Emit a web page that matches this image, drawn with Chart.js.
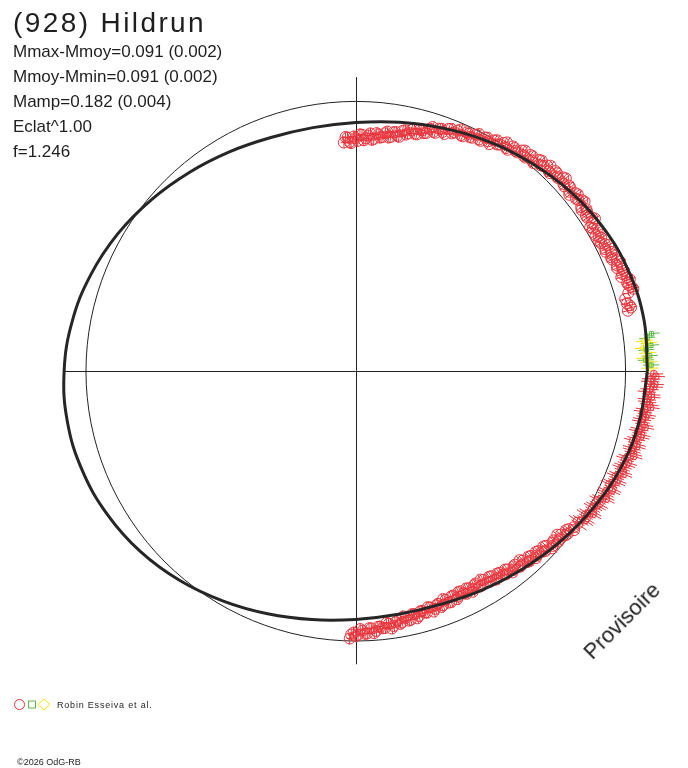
<!DOCTYPE html>
<html>
<head>
<meta charset="utf-8">
<script src="https://cdn.jsdelivr.net/npm/chart.js"></script>
<style>
  html, body { margin: 0; padding: 0; background: #fff; overflow: hidden; }
  #wrap { position: relative; width: 688px; height: 768px; }
  #c { position: absolute; left: 0; top: 0; }
  .t { position: absolute; font-family: "Liberation Sans", Arial, sans-serif; color: #1e1e1e; line-height: 1; white-space: nowrap; }
</style>
</head>
<body>
<div id="wrap">
  <canvas id="c" width="688" height="768"></canvas>
  <div class="t" style="left:13px; top:9px; font-size:28px; letter-spacing:2.4px;">(928) Hildrun</div>
  <div class="t" style="left:13px; top:42.6px; font-size:17px;">Mmax-Mmoy=0.091 (0.002)</div>
  <div class="t" style="left:13px; top:67.6px; font-size:17px;">Mmoy-Mmin=0.091 (0.002)</div>
  <div class="t" style="left:13px; top:92.6px; font-size:17px;">Mamp=0.182 (0.004)</div>
  <div class="t" style="left:13px; top:117.6px; font-size:17px;">Eclat^1.00</div>
  <div class="t" style="left:13px; top:142.6px; font-size:17px;">f=1.246</div>
  <div class="t" style="left:57px; top:700.7px; font-size:9px; letter-spacing:0.8px;">Robin Esseiva et al.</div>
  <div class="t" style="left:17px; top:758.4px; font-size:9px;">©2026 OdG-RB</div>
  <div class="t" style="left:622px; top:621px; font-size:22px; transform:translate(-50%,-50%) rotate(-45deg);">Provisoire</div>
</div>
<script>
// ---------- DATA (angle in degrees, radius relative to reference circle = 1) ----------
const curveAngle = [0,10,20,30,40,50,60,70,80,90,100,110,120,130,140,150,160,170,
                    180,190,200,210,220,230,240,250,260,270,280,290,300,310,320,330,340,350,360];
const curveRadius = [1.081,1.085,1.077,1.060,1.036,1.008,0.982,0.956,0.935,0.920,0.915,0.920,
                     0.937,0.960,0.988,1.018,1.045,1.067,1.081,1.085,1.078,1.062,1.040,1.012,
                     0.982,0.955,0.933,0.918,0.913,0.918,0.935,0.957,0.985,1.015,1.045,1.067,1.081];

const redTop = [[93,0.847],[92,0.865],[91.2,0.844],[90,0.862],[89,0.876],[88,0.855],[87,0.873],[86,0.858],
  [85,0.884],[84,0.869],[83,0.887],[82,0.873],[81,0.895],[80,0.884],[79,0.905],[78,0.895],[77,0.916],
  [76,0.905],[75,0.927],[74,0.916],[73,0.938],[72,0.931],[71,0.949],[70,0.942],[69,0.960],[68,0.949],
  [67,0.967],[66,0.956],[65,0.975],[64,0.964],[63,0.982],[62,0.971],[61,0.989],[60,0.982],[59,0.996],
  [58,0.989],[57,1.007],[56,0.996],[55,1.015],[54,1.007],[53,1.022],[52,1.011],[51,1.029],[50,1.018],
  [49,1.036],[48,1.025],[47,1.040],[46,1.029],[45,1.047],[44,1.036],[43,1.051],[42,1.036],[41,1.047],
  [40,1.033],[39,1.047],[38,1.036],[37,1.051],[36,1.033],[35,1.044],[34,1.029],[33,1.044],[32,1.033],
  [31,1.025],[30,1.040],[29,1.029],[28,1.022],[27,1.036],[26,1.029],[25,1.044],[24,1.036],[23,1.051],
  [22,1.044],[21,1.058],[20,1.051],[19,1.065],[18,1.058],[17,1.069],[16,1.051],[14,1.036],[13,1.047],[12.5,1.033]];

const redTop2 = [[92.5,0.867],[91.5,0.848],[90.5,0.868],[89.5,0.852],[88.5,0.875],[87.5,0.862],[86.5,0.881],
  [85.5,0.862],[84.5,0.880],[83.5,0.872],[82.5,0.894],[81.5,0.876],[80.5,0.897],[79.5,0.882],[78.5,0.909],
  [77.5,0.902],[76.5,0.924],[75.5,0.905],[74.5,0.925],[73.5,0.919],[72.5,0.947],[71.5,0.930],[70.5,0.951],
  [69.5,0.937],[68.5,0.964],[67.5,0.956],[66.5,0.975],[65.5,0.955],[64.5,0.973],[63.5,0.965],[62.5,0.989],
  [61.5,0.970],[60.5,0.992],[59.5,0.975],[58.5,1.002],[57.5,0.994],[56.5,1.015],[55.5,0.994],[54.5,1.014],
  [53.5,1.007],[52.5,1.029],[51.5,1.010],[50.5,1.030],[49.5,1.013],[48.5,1.040],[47.5,1.029],[46.5,1.048],
  [45.5,1.027],[44.5,1.045],[43.5,1.036],[42.5,1.056],[41.5,1.032],[40.5,1.046],[39.5,1.026],[38.5,1.051],
  [37.5,1.040],[36.5,1.055],[35.5,1.028],[34.5,1.040],[33.5,1.029],[32.5,1.051],[31.5,1.019],[30.5,1.039],
  [29.5,1.021],[28.5,1.035],[27.5,1.025],[26.5,1.046],[25.5,1.026],[24.5,1.043],[23.5,1.036],[22.5,1.060],
  [21.5,1.041],[20.5,1.061],[19.5,1.044],[18.5,1.071],[17.5,1.060],[16.5,1.073],[15,1.034],[13.5,1.044]];

const redRight = [[-0.5,1.105],[-1.5,1.095],[-2.5,1.109],[-3.5,1.091],[-4.5,1.098],[-5.5,1.084],[-6.5,1.095],
  [-7.5,1.080],[-8.5,1.091],[-9.5,1.076],[-10.5,1.087],[-11.5,1.073],[-12.5,1.084],[-13.5,1.069],
  [-14.5,1.076],[-15.5,1.062],[-16.5,1.073],[-17.5,1.055],[-18.5,1.065],[-19.5,1.051],[-20.5,1.058],
  [-21.5,1.044],[-22.5,1.051],[-23.5,1.036],[-24.5,1.047],[-25.5,1.029],[-26.5,1.036],[-27.5,1.022],
  [-28.5,1.029],[-29.5,1.015],[-30.5,1.022],[-31.5,1.007],[-32.5,1.015],[-33.5,1.000],[-34.5,1.004]];

const redRight2 = [[-1,1.112],[-2,1.092],[-3,1.106],[-4,1.081],[-5,1.100],[-6,1.086],[-7,1.101],[-8,1.075],
  [-9,1.087],[-10,1.074],[-11,1.092],[-12,1.069],[-13,1.083],[-14,1.059],[-15,1.078],[-16,1.064],[-17,1.077],
  [-18,1.049],[-19,1.061],[-20,1.047],[-21,1.063],[-22,1.038],[-23,1.050],[-24,1.028],[-25,1.047],[-26,1.029],
  [-27,1.042],[-28,1.015],[-29,1.025],[-30,1.011],[-31,1.027],[-32,1.001],[-33,1.014],[-34,0.988]];

const redBottom = [[-35.5,0.993],[-36.5,0.982],[-37.5,0.989],[-38.5,0.971],[-39.5,0.978],[-40.5,0.964],
  [-41.5,0.975],[-42.5,0.956],[-43.5,0.967],[-44.5,0.949],[-45.5,0.956],[-46.5,0.942],[-47.5,0.953],
  [-48.5,0.935],[-49.5,0.945],[-50.5,0.927],[-51.5,0.938],[-52.5,0.924],[-53.5,0.935],[-54.5,0.916],
  [-55.5,0.927],[-56.5,0.909],[-57.5,0.924],[-58.5,0.905],[-59.5,0.920],[-60.5,0.902],[-61.5,0.916],
  [-62.5,0.905],[-63.5,0.920],[-64.5,0.902],[-65.5,0.916],[-66.5,0.905],[-67.5,0.924],[-68.5,0.909],
  [-69.5,0.924],[-70.5,0.913],[-71.5,0.927],[-72.5,0.916],[-73.5,0.931],[-74.5,0.920],[-75.5,0.935],
  [-76.5,0.924],[-77.5,0.942],[-78.5,0.931],[-79.5,0.945],[-80.5,0.935],[-81.5,0.953],[-82.5,0.942],
  [-83.5,0.956],[-84.5,0.949],[-85.5,0.964],[-86.5,0.953],[-87.5,0.971],[-88.5,0.960],[-89.5,0.975],
  [-90.5,0.967],[-91.3,0.989]];

const redBottom2 = [[-36,1.000],[-37,0.976],[-38,0.986],[-39,0.961],[-40,0.980],[-41,0.966],[-42,0.979],
  [-43,0.951],[-44,0.961],[-45,0.945],[-46,0.961],[-47,0.938],[-48,0.950],[-49,0.926],[-50,0.945],[-51,0.929],
  [-52,0.944],[-53,0.919],[-54,0.929],[-55,0.914],[-56,0.930],[-57,0.907],[-58,0.921],[-59,0.899],[-60,0.920],
  [-61,0.905],[-62,0.924],[-63,0.902],[-64,0.914],[-65,0.901],[-66,0.923],[-67,0.905],[-68,0.923],[-69,0.903],
  [-70,0.928],[-71,0.916],[-72,0.935],[-73,0.913],[-74,0.929],[-75,0.920],[-76,0.942],[-77,0.923],[-78,0.943],
  [-79,0.924],[-80,0.949],[-81,0.940],[-82,0.961],[-83,0.938],[-84,0.956],[-85,0.949],[-86,0.971],[-87,0.952],
  [-88,0.972],[-89,0.954],[-90,0.980],[-91,0.974]];

const greenPts  = [[7.2,1.105],[6.5,1.087],[5.0,1.098],[4.2,1.080],[3.0,1.091],[2.2,1.076],[1.2,1.095]];
const yellowPts = [[6.0,1.076],[5.5,1.091],[4.6,1.069],[3.6,1.084],[2.6,1.073],[1.8,1.087],[0.6,1.091]];

// radial error (same units as radius)
const errRed = [0.022], errRedSmall = [0.034], errGreen = [0.030], errYellow = [0.032];

// ---------- helpers ----------
const RED = '#e8333b', GREEN = '#5cb848', YELLOW = '#efe400', INK = '#222';
const toXY = (a, r) => ({ x: r * Math.cos(a * Math.PI / 180), y: r * Math.sin(a * Math.PI / 180) });
const pairsXY = arr => arr.map(p => toXY(p[0], p[1]));
const curveXY = curveAngle.map((a, i) => toXY(a, curveRadius[i]));

// frame: reference circle = 275 px, centre at (356,371) of the 688x768 canvas
const PX = 275;
const AXIS_EXT = 1.084;

const polarDecor = {
  id: 'polarDecor',
  beforeDatasetsDraw(chart) {
    const { ctx, scales: { x, y } } = chart;
    const cx = x.getPixelForValue(0), cy = y.getPixelForValue(0);
    const rr = x.getPixelForValue(1) - cx;
    ctx.save();
    ctx.strokeStyle = INK;
    ctx.lineWidth = 1;
    ctx.beginPath();
    ctx.moveTo(x.getPixelForValue(-AXIS_EXT), Math.round(cy) + 0.5);
    ctx.lineTo(x.getPixelForValue(AXIS_EXT), Math.round(cy) + 0.5);
    ctx.moveTo(Math.round(cx) + 0.5, y.getPixelForValue(AXIS_EXT + 0.004));
    ctx.lineTo(Math.round(cx) + 0.5, y.getPixelForValue(-AXIS_EXT));
    ctx.stroke();
    ctx.beginPath();
    ctx.arc(cx, cy, rr, 0, Math.PI * 2);
    ctx.stroke();
    // radial error bars + small tangential ticks
    chart.data.datasets.forEach(ds => {
      if (!ds.errR) return;
      ctx.strokeStyle = ds.borderColor;
      ctx.lineWidth = 1;
      ctx.beginPath();
      ds.data.forEach(p => {
        const a = Math.atan2(p.y, p.x), r = Math.hypot(p.x, p.y);
        const c = Math.cos(a), s = Math.sin(a);
        const x1 = x.getPixelForValue((r - ds.errR) * c), y1 = y.getPixelForValue((r - ds.errR) * s);
        const x2 = x.getPixelForValue((r + ds.errR) * c), y2 = y.getPixelForValue((r + ds.errR) * s);
        ctx.moveTo(x1, y1); ctx.lineTo(x2, y2);
        const px = x.getPixelForValue(p.x), py = y.getPixelForValue(p.y);
        const t = 3;
        ctx.moveTo(px - s * t, py - c * t); ctx.lineTo(px + s * t, py + c * t);
      });
      ctx.stroke();
    });
    ctx.restore();
  },
  afterDraw(chart) {
    const ctx = chart.ctx;
    ctx.save();
    ctx.lineWidth = 1;
    ctx.strokeStyle = RED;
    ctx.beginPath(); ctx.arc(19.5, 704.5, 5, 0, Math.PI * 2); ctx.stroke();
    ctx.strokeStyle = GREEN;
    ctx.strokeRect(28.5, 701, 7, 7);
    ctx.strokeStyle = YELLOW;
    ctx.beginPath();
    ctx.moveTo(44, 699); ctx.lineTo(50, 704.5); ctx.lineTo(44, 710); ctx.lineTo(38, 704.5); ctx.closePath();
    ctx.stroke();
    ctx.restore();
  }
};

const hollow = 'rgba(0,0,0,0)';
new Chart(document.getElementById('c'), {
  type: 'scatter',
  data: {
    datasets: [
      { label: 'Fit', type: 'line', data: curveXY, borderColor: '#262626', borderWidth: 3,
        pointRadius: 0, tension: 0.4, fill: false },
      { label: 'Robin Esseiva et al.', data: pairsXY(redTop.concat(redTop2)), pointStyle: 'circle', pointRadius: 5.5,
        borderColor: RED, backgroundColor: hollow, borderWidth: 1, errR: errRed[0] },
      { label: 'Robin Esseiva et al. (2)', data: pairsXY(redRight.concat(redRight2)), pointStyle: 'circle', pointRadius: 3.5,
        borderColor: RED, backgroundColor: hollow, borderWidth: 1, errR: errRedSmall[0] },
      { label: 'Robin Esseiva et al. (3)', data: pairsXY(redBottom.concat(redBottom2)), pointStyle: 'circle', pointRadius: 5.5,
        borderColor: RED, backgroundColor: hollow, borderWidth: 1, errR: errRed[0] },
      { label: 'Green', data: pairsXY(greenPts), pointStyle: 'rect', pointRadius: 3,
        borderColor: GREEN, backgroundColor: hollow, borderWidth: 1, errR: errGreen[0] },
      { label: 'Yellow', data: pairsXY(yellowPts), pointStyle: 'rectRot', pointRadius: 3.5,
        borderColor: YELLOW, backgroundColor: hollow, borderWidth: 1, errR: errYellow[0] }
    ]
  },
  options: {
    responsive: false,
    animation: false,
    layout: { padding: 0 },
    plugins: { legend: { display: false }, tooltip: { enabled: false } },
    scales: {
      x: { type: 'linear', display: false, min: -356 / PX, max: (688 - 356) / PX },
      y: { type: 'linear', display: false, min: -(768 - 371) / PX, max: 371 / PX }
    }
  },
  plugins: [polarDecor]
});
</script>
</body>
</html>
